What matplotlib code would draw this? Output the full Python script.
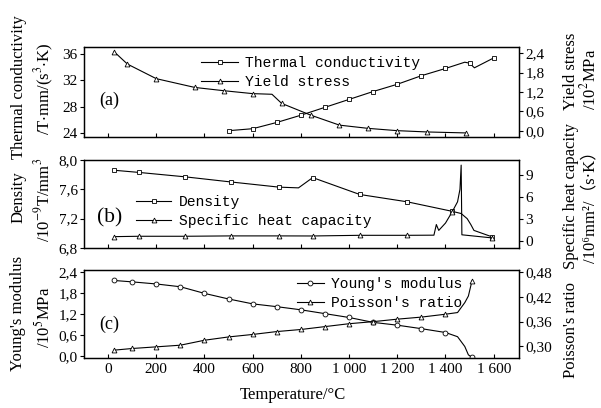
import matplotlib
matplotlib.use("Agg")
import matplotlib.pyplot as plt
from matplotlib.ticker import FixedLocator, FixedFormatter

plt.rcParams['font.family'] = ['Liberation Serif', 'Noto Sans CJK SC', 'DejaVu Sans']
plt.rcParams['mathtext.fontset'] = 'stix'

# ---- data ----
# (a) thermal conductivity (left) and yield stress (right)
tc_T = [500, 600, 700, 800, 900, 1000, 1100, 1200, 1300, 1400, 1480, 1500, 1520, 1600]
tc = [24.35, 24.65, 25.6, 26.7, 27.9, 29.1, 30.3, 31.4, 32.7, 33.8, 34.75, 34.6, 33.9, 35.4]
ys_T = [25, 80, 200, 360, 480, 600, 680, 720, 840, 960, 1080, 1200, 1325, 1487]
ys = [2.44, 2.06, 1.61, 1.34, 1.24, 1.15, 1.13, 0.85, 0.49, 0.18, 0.08, 0.01, -0.03, -0.06]

# (b) density (left) and specific heat capacity (right)
rho_T = [26, 130, 321, 511, 709, 790, 849, 1044, 1241, 1428, 1465, 1490, 1505, 1518, 1595]
rho = [7.86, 7.83, 7.77, 7.70, 7.63, 7.62, 7.76, 7.53, 7.43, 7.30, 7.27, 7.20, 7.12, 7.04, 6.95]
cp_T = [26, 130, 321, 511, 709, 849, 1044, 1241, 1352, 1362, 1372, 1400, 1428, 1450, 1460, 1465, 1468, 1595]
cp = [0.55, 0.6, 0.6, 0.65, 0.65, 0.64, 0.73, 0.73, 0.75, 2.2, 1.4, 2.4, 3.95, 5.3, 7.0, 10.3, 0.8, 0.37]

# (c) Young's modulus (left) and Poisson's ratio (right)
el_T = [25, 100, 200, 300, 400, 500, 600, 700, 800, 900, 1000, 1100, 1200, 1300, 1400, 1450, 1480, 1495, 1510]
ym = [2.16, 2.12, 2.06, 1.98, 1.79, 1.63, 1.49, 1.41, 1.32, 1.21, 1.10, 0.96, 0.88, 0.78, 0.67, 0.55, 0.27, 0.03, -0.04]
pr = [0.291, 0.295, 0.299, 0.303, 0.315, 0.323, 0.329, 0.336, 0.341, 0.348, 0.355, 0.360, 0.366, 0.371, 0.378, 0.382, 0.406, 0.422, 0.459]

x_ticks = [0, 200, 400, 600, 800, 1000, 1200, 1400, 1600]
x_labels = ['0', '200', '400', '600', '800', '1 000', '1 200', '1 400', '1 600']

W, H = 601, 408
fig = plt.figure(figsize=(W / 100, H / 100), dpi=100)


def box(top, bottom):
    return [84 / W, 1 - bottom / H, (519 - 84) / W, (bottom - top) / H]


def setup(ax, ticks, labels, ylim):
    ax.set_xlim(-100, 1705)
    ax.set_ylim(*ylim)
    ax.yaxis.set_major_locator(FixedLocator(ticks))
    ax.yaxis.set_major_formatter(FixedFormatter(labels))
    ax.tick_params(axis='y', direction='out', length=3, width=0.8, labelsize=11, pad=1.5)
    ax.tick_params(axis='x', direction='in', length=3, width=0.8, labelsize=11)
    for s in ax.spines.values():
        s.set_linewidth(0.9)


line_kw = dict(color='black', lw=0.8, markersize=3.5, markerfacecolor='white',
               markeredgewidth=0.6)
leg_kw = dict(frameon=False, prop={'family': 'Liberation Mono', 'size': 10.5},
              borderpad=0, handletextpad=0.5, labelspacing=0.35, numpoints=1,
              bbox_transform=fig.transFigure)

# ---- panel (a) ----
axa = fig.add_axes(box(47, 137))
axa2 = axa.twinx()
la, = axa.plot(tc_T, tc, marker='s', markevery=[0, 1, 2, 3, 4, 5, 6, 7, 8, 9, 11, 13], **line_kw)
la2, = axa2.plot(ys_T, ys, marker='^', markevery=[0, 1, 2, 3, 4, 5, 7, 8, 9, 10, 11, 12, 13], **line_kw)
setup(axa, [24, 28, 32, 36], ['24', '28', '32', '36'], (23.39, 37.06))
setup(axa2, [0, 0.6, 1.2, 1.8, 2.4], ['0,0', '0,6', '1,2', '1,8', '2,4'], (-0.185, 2.585))
axa.set_xticks(x_ticks)
axa.set_xticklabels([])
axa.text(5, 29.0, '(a)', fontsize=13, ha='center', va='center')
axa.legend([la, la2], ['Thermal conductivity', 'Yield stress'], handlelength=2.5,
           loc='upper left', bbox_to_anchor=(194 / W, 1 - 49 / H), **leg_kw)

# ---- panel (b) ----
axb = fig.add_axes(box(160, 248))
axb2 = axb.twinx()
lb, = axb.plot(rho_T, rho, marker='s', markevery=[0, 1, 2, 3, 4, 6, 7, 8, 9, 14], **line_kw)
lb2, = axb2.plot(cp_T, cp, marker='^', markevery=[0, 1, 2, 3, 4, 5, 6, 7, 12, 17], **line_kw)
setup(axb, [6.8, 7.2, 7.6, 8.0], ['6,8', '7,2', '7,6', '8,0'], (6.8, 8.0))
setup(axb2, [0, 3, 6, 9], ['0', '3', '6', '9'], (-1.0, 11.0))
axb.set_xticks(x_ticks)
axb.set_xticklabels([])
axb.text(5, 7.21, '(b)', fontsize=15.5, ha='center', va='center')
axb.legend([lb, lb2], ['Density', 'Specific heat capacity'], handlelength=2.4,
           loc='upper left', bbox_to_anchor=(129 / W, 1 - 188 / H), **leg_kw)

# ---- panel (c) ----
axc = fig.add_axes(box(270, 358))
axc2 = axc.twinx()
mk = list(range(15)) + [18]
lc, = axc.plot(el_T, ym, marker='o', markevery=mk, **line_kw)
lc2, = axc2.plot(el_T, pr, marker='^', markevery=mk, **line_kw)
setup(axc, [0, 0.6, 1.2, 1.8, 2.4], ['0,0', '0,6', '1,2', '1,8', '2,4'], (-0.06, 2.46))
setup(axc2, [0.30, 0.36, 0.42, 0.48], ['0,30', '0,36', '0,42', '0,48'], (0.272, 0.485))
axc.set_xticks(x_ticks)
axc.set_xticklabels(x_labels)
axc.text(5, 0.89, '(c)', fontsize=13, ha='center', va='center')
axc.legend([lc, lc2], ["Young's modulus", "Poisson's ratio"], handlelength=1.8,
           loc='upper left', bbox_to_anchor=(290 / W, 1 - 270 / H), **leg_kw)

# ---- axis titles ----
def vlabel(x, y, s, size=12):
    fig.text(x / W, 1 - y / H, s, rotation=90, ha='center', va='center', fontsize=size)


vlabel(19, 87, 'Thermal conductivity')
vlabel(44, 89, r'/T$\cdot$mm/(s$^3$$\cdot$K)')
vlabel(19, 197, 'Density')
vlabel(43, 200, r'/10$^{-9}$T/mm$^3$')
vlabel(18, 313, "Young's modulus")
vlabel(44, 317, r'/10$^5$MPa')
vlabel(571, 71, 'Yield stress')
vlabel(589, 79, r'/10$^2$MPa')
vlabel(571, 196, 'Specific heat capacity')
vlabel(590, 203, '/10⁶mm²/（s·K）')
vlabel(571, 330, "Poisson's ratio")

fig.text(293 / W, 1 - 395 / H, 'Temperature/°C', ha='center', va='center', fontsize=12)

fig.savefig('out.png', dpi=100)
